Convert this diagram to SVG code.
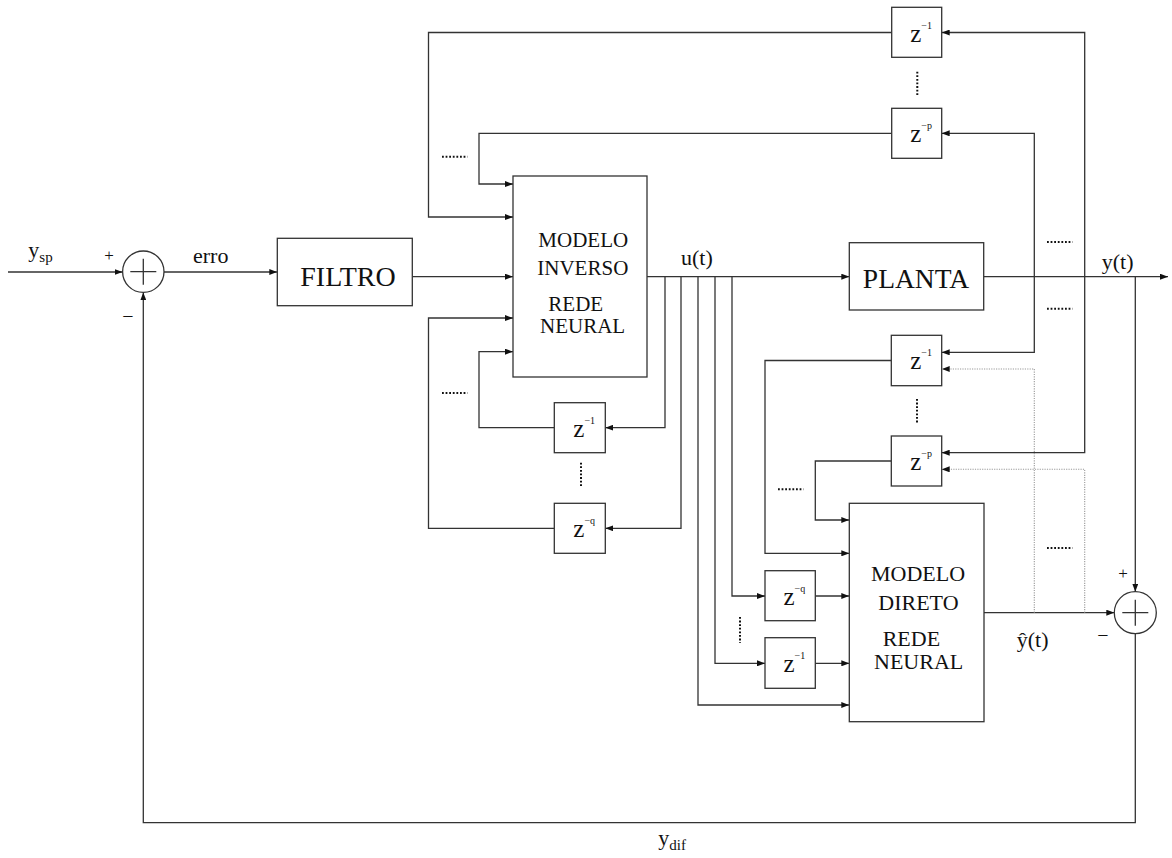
<svg xmlns="http://www.w3.org/2000/svg" width="1172" height="858" viewBox="0 0 1172 858">
<style>
.w{fill:#ffffff;stroke:#333;stroke-width:1.3}
.c{fill:none;stroke:#333;stroke-width:1.3}
.d{fill:none;stroke:#999;stroke-width:1.1;stroke-dasharray:1.2 1.2}
.dots{fill:none;stroke:#111;stroke-width:2;stroke-dasharray:1.8 1.8}
.t{font-family:"Liberation Serif","Times New Roman",serif;fill:#111}
.z{font-family:"Liberation Serif","Times New Roman",serif;fill:#111;font-size:25px}
.s{font-size:10px}
</style>
<defs>
<marker id="ah" viewBox="0 0 8 6" refX="8" refY="3" markerWidth="8" markerHeight="6" markerUnits="userSpaceOnUse" orient="auto">
<path d="M0,0 L8,3 L0,6 z" fill="#111"/>
</marker>
</defs>
<rect x="0" y="0" width="1172" height="858" fill="#ffffff"/>

<g id="connectors">
<path class="c" d="M8,272 H122.6" marker-end="url(#ah)"/>
<path class="c" d="M164,272 H277.3" marker-end="url(#ah)"/>
<path class="c" d="M412.3,276.7 H513" marker-end="url(#ah)"/>
<path class="c" d="M647,276.7 H849.3" marker-end="url(#ah)"/>
<path class="c" d="M983.7,276.7 H1168" marker-end="url(#ah)"/>
<path class="c" d="M1135.3,276.7 V591.7" marker-end="url(#ah)"/>
<path class="c" d="M984,612.7 H1114.3" marker-end="url(#ah)"/>
<path class="c" d="M1135.3,633.7 V822.7 H143.3 V292.4" marker-end="url(#ah)"/>
<path class="c" d="M1084.7,276.7 V32.5 H941.7" marker-end="url(#ah)"/>
<path class="c" d="M1084.7,276.7 V452.7 H941.7" marker-end="url(#ah)"/>
<path class="c" d="M1034.3,276.7 V133.3 H941.7" marker-end="url(#ah)"/>
<path class="c" d="M1034.3,276.7 V352.3 H941.7" marker-end="url(#ah)"/>
<path class="c" d="M891.7,32.5 H428.5 V217 H513" marker-end="url(#ah)"/>
<path class="c" d="M891.7,133.3 H479 V184 H513" marker-end="url(#ah)"/>
<path class="c" d="M554.3,427.7 H479 V351.7 H513" marker-end="url(#ah)"/>
<path class="c" d="M554.3,528.3 H428.5 V318 H513" marker-end="url(#ah)"/>
<path class="c" d="M665,276.7 V427.7 H605.3" marker-end="url(#ah)"/>
<path class="c" d="M681,276.7 V528.3 H605.3" marker-end="url(#ah)"/>
<path class="c" d="M698,276.7 V705 H849.3" marker-end="url(#ah)"/>
<path class="c" d="M715,276.7 V663.3 H765" marker-end="url(#ah)"/>
<path class="c" d="M732,276.7 V596 H765" marker-end="url(#ah)"/>
<path class="c" d="M815.3,596 H849.3" marker-end="url(#ah)"/>
<path class="c" d="M815.3,663.3 H849.3" marker-end="url(#ah)"/>
<path class="c" d="M891.3,360.5 H765 V553.3 H849.3" marker-end="url(#ah)"/>
<path class="c" d="M891.3,461 H815.3 V520 H849.3" marker-end="url(#ah)"/>
<path class="d" d="M1034.3,612.7 V369 H941.7" marker-end="url(#ah)"/>
<path class="d" d="M1084.7,612.7 V469.3 H941.7" marker-end="url(#ah)"/>
</g>

<g id="dots">
<path class="dots" d="M442,156.7 H467.5"/>
<path class="dots" d="M442,393 H467.5"/>
<path class="dots" d="M778,489.3 H803.5"/>
<path class="dots" d="M1047,242 H1072.5"/>
<path class="dots" d="M1047,308.7 H1072.5"/>
<path class="dots" d="M1047,548 H1072.5"/>
<path class="dots" d="M917.3,71.7 V96"/>
<path class="dots" d="M581,462.7 V487"/>
<path class="dots" d="M917,399 V423.5"/>
<path class="dots" d="M740,617 V643"/>
</g>

<g id="sum1">
<circle class="w" cx="143.3" cy="271.7" r="20.7"/>
<path class="c" d="M130.3,271.7 H156.3 M143.3,258.7 V284.7"/>
<text class="t" x="109" y="261" font-size="17" text-anchor="middle">+</text>
<text class="t" x="128" y="323" font-size="20" text-anchor="middle">−</text>
</g>

<g id="sum2">
<circle class="w" cx="1135.3" cy="612.7" r="21"/>
<path class="c" d="M1122.3,612.7 H1148.3 M1135.3,599.7 V625.7"/>
<text class="t" x="1123" y="579" font-size="17" text-anchor="middle">+</text>
<text class="t" x="1103" y="642" font-size="20" text-anchor="middle">−</text>
</g>

<g id="filtro">
<rect class="w" x="277.3" y="238.3" width="135" height="67.4"/>
<text class="t" x="348" y="286" font-size="28" text-anchor="middle">FILTRO</text>
</g>

<g id="planta">
<rect class="w" x="849.3" y="242.7" width="134.4" height="67.3"/>
<text class="t" x="916" y="288.3" font-size="27.5" text-anchor="middle">PLANTA</text>
</g>

<g id="modelo-inverso">
<rect class="w" x="513" y="176" width="134" height="201"/>
<text class="t" font-size="21" x="538.3" y="247.3">MODELO</text>
<text class="t" font-size="21" x="537.3" y="275">INVERSO</text>
<text class="t" font-size="21" x="548.3" y="310.5">REDE</text>
<text class="t" font-size="21" x="540" y="333">NEURAL</text>
</g>

<g id="modelo-direto">
<rect class="w" x="849.3" y="503.3" width="134.7" height="218.4"/>
<text class="t" font-size="22" x="871" y="581">MODELO</text>
<text class="t" font-size="22" x="878.3" y="610">DIRETO</text>
<text class="t" font-size="22" x="882.7" y="645.5">REDE</text>
<text class="t" font-size="22" x="874" y="668.5">NEURAL</text>
</g>

<g id="z-top-1">
<rect class="w" x="891.7" y="7.3" width="50" height="50"/>
<text class="z" x="910.2" y="41.5">z<tspan class="s" dy="-13">−1</tspan></text>
</g>
<g id="z-top-p">
<rect class="w" x="891.7" y="108.3" width="50" height="50"/>
<text class="z" x="910.2" y="142.3">z<tspan class="s" dy="-13">−p</tspan></text>
</g>
<g id="z-inv-1">
<rect class="w" x="554.3" y="402.7" width="51" height="50"/>
<text class="z" x="573.3" y="436.7">z<tspan class="s" dy="-13">−1</tspan></text>
</g>
<g id="z-inv-q">
<rect class="w" x="554.3" y="503.3" width="51" height="50"/>
<text class="z" x="573.3" y="537.3">z<tspan class="s" dy="-13">−q</tspan></text>
</g>
<g id="z-mid-1">
<rect class="w" x="891.3" y="335.3" width="50.4" height="50.4"/>
<text class="z" x="910.2" y="369.3">z<tspan class="s" dy="-13">−1</tspan></text>
</g>
<g id="z-mid-p">
<rect class="w" x="891.3" y="436" width="50.4" height="50"/>
<text class="z" x="910.2" y="470">z<tspan class="s" dy="-13">−p</tspan></text>
</g>
<g id="z-dir-q">
<rect class="w" x="765" y="570.7" width="50.3" height="50"/>
<text class="z" x="783.5" y="605">z<tspan class="s" dy="-13">−q</tspan></text>
</g>
<g id="z-dir-1">
<rect class="w" x="765" y="637.7" width="50.3" height="50.6"/>
<text class="z" x="783.5" y="672.3">z<tspan class="s" dy="-13">−1</tspan></text>
</g>

<g id="labels">
<text class="t" x="28.3" y="257" font-size="22">y<tspan font-size="15" dy="5">sp</tspan></text>
<text class="t" x="193" y="263" font-size="22">erro</text>
<text class="t" x="681" y="265" font-size="22">u(t)</text>
<text class="t" x="1101.7" y="268.5" font-size="22">y(t)</text>
<text class="t" x="1016.7" y="647" font-size="22">ŷ(t)</text>
<text class="t" x="658.3" y="845" font-size="22">y<tspan font-size="15" dy="5">dif</tspan></text>
</g>
</svg>
